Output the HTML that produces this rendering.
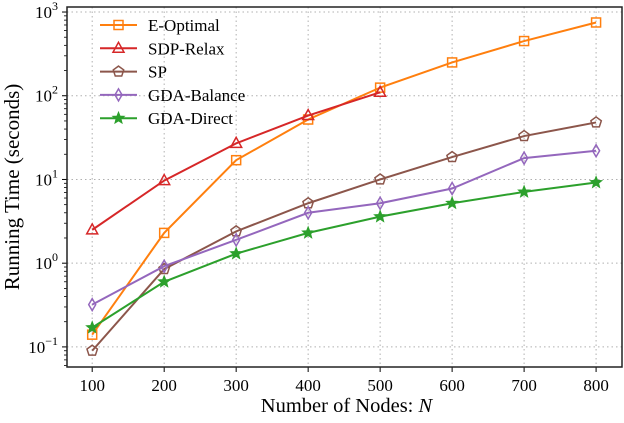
<!DOCTYPE html>
<html><head><meta charset="utf-8"><style>
html,body{margin:0;padding:0;background:#fff}
svg text{font-family:"Liberation Serif","DejaVu Serif",serif;fill:#000}
</style></head><body>
<svg id="chart" width="624" height="418" xmlns="http://www.w3.org/2000/svg"></svg>
<script>
const categories=[100,200,300,400,500,600,700,800];
const eOptimal=[0.14,2.3,17,52,125,250,450,750];
const sdpRelax=[2.5,9.7,27,58,110];
const sp=[0.09,0.85,2.4,5.2,10,18.5,33,48];
const gdaBalance=[0.32,0.92,1.9,4.0,5.2,7.8,18,22];
const gdaDirect=[0.17,0.6,1.3,2.3,3.6,5.2,7.1,9.2];
const yTickExps=[-1,0,1,2,3];
const seriesNames=["E-Optimal","SDP-Relax","SP","GDA-Balance","GDA-Direct"];

const NS="http://www.w3.org/2000/svg";
const svg=document.getElementById('chart');
const L=67,R=622,T=7,B=367;
const xMin=65,xMax=836,yMin=-1.24,yMax=3.06;
const X=v=>L+(v-xMin)/(xMax-xMin)*(R-L);
const Y=v=>B-(Math.log10(v)-yMin)/(yMax-yMin)*(B-T);
function el(tag,attrs,parent){const e=document.createElementNS(NS,tag);for(const k in attrs)e.setAttribute(k,attrs[k]);(parent||svg).appendChild(e);return e;}

categories.forEach(c=>{const g=el('line',{x1:X(c),x2:X(c),y1:T,y2:B,stroke:'#b0b0b0','stroke-dasharray':'1.5,3','stroke-width':1});

});
yTickExps.forEach(e=>{const g=el('line',{x1:L,x2:R,y1:Y(10**e),y2:Y(10**e),stroke:'#b0b0b0','stroke-dasharray':'1.5,3','stroke-width':1});

});

categories.forEach(c=>{
 el('line',{x1:X(c),x2:X(c),y1:B,y2:B+5,stroke:'#000','stroke-width':1});
 const t=el('text',{x:X(c),y:B+24,'font-size':17,'text-anchor':'middle'});t.textContent=c;
 
 
});
yTickExps.forEach(e=>{
 const y=Y(10**e);
 el('line',{x1:L-5,x2:L,y1:y,y2:y,stroke:'#000','stroke-width':1});
 const t=el('text',{x:L-9,y:y+6,'font-size':17,'text-anchor':'end'});
 t.innerHTML='10<tspan dy="-8" font-size="12">'+(e<0?'−'+(-e):e)+'</tspan>';
 
 
});
for(let e=-2;e<=3;e++)for(let m=2;m<=9;m++){const v=m*10**e;const lv=Math.log10(v);if(lv<yMin||lv>yMax)continue;
 el('line',{x1:L-3,x2:L,y1:Y(v),y2:Y(v),stroke:'#000','stroke-width':0.8});}

const frame=el('rect',{x:L,y:T,width:R-L,height:B-T,fill:'none',stroke:'#222','stroke-width':1.5});



const xl=el('text',{x:(L+R)/2+2,y:412,'font-size':20.5,'text-anchor':'middle'});
xl.innerHTML='Number of Nodes: <tspan font-style="italic">N</tspan>';


const yl=el('text',{x:0,y:0,'font-size':21,'text-anchor':'middle',transform:`translate(19,${(T+B)/2}) rotate(-90)`});
yl.textContent='Running Time (seconds)';



function marker(type,x,y,color,g){
 const s=5;
 if(type==='square')return el('rect',{x:x-s+0.5,y:y-s+0.5,width:2*s-1,height:2*s-1,fill:'none',stroke:color,'stroke-width':1.5},g);
 if(type==='tri')return el('polygon',{points:`${x},${y-6} ${x+5.5},${y+4} ${x-5.5},${y+4}`,fill:'none',stroke:color,'stroke-width':1.5},g);
 if(type==='pent'){let p=[];for(let i=0;i<5;i++){const a=-Math.PI/2+i*2*Math.PI/5;p.push((x+5.5*Math.cos(a))+','+(y+5.5*Math.sin(a)));}return el('polygon',{points:p.join(' '),fill:'none',stroke:color,'stroke-width':1.5},g);}
 if(type==='diam')return el('polygon',{points:`${x},${y-6} ${x+3.5},${y} ${x},${y+6} ${x-3.5},${y}`,fill:'none',stroke:color,'stroke-width':1.5},g);
 if(type==='star'){let p=[];for(let i=0;i<10;i++){const a=-Math.PI/2+i*Math.PI/5;const r=i%2?2.6:6;p.push((x+r*Math.cos(a))+','+(y+r*Math.sin(a)));}return el('polygon',{points:p.join(' '),fill:color,stroke:color,'stroke-width':1},g);}
}
const series=[
 {data:eOptimal,color:'#ff7f0e',m:'square',name:'e-optimal'},
 {data:sdpRelax,color:'#d62728',m:'tri',name:'sdp-relax'},
 {data:sp,color:'#8c564b',m:'pent',name:'sp'},
 {data:gdaBalance,color:'#9467bd',m:'diam',name:'gda-balance'},
 {data:gdaDirect,color:'#2ca02c',m:'star',name:'gda-direct'}];
series.forEach(s=>{
 const g=el('g',{});
 
 
 const pts=s.data.map((v,i)=>X(categories[i])+','+Y(v)).join(' ');
 el('polyline',{points:pts,fill:'none',stroke:s.color,'stroke-width':2},g);
 s.data.forEach((v,i)=>{const mk=marker(s.m,X(categories[i]),Y(v),s.color,g);
  
  });
});

const lg=el('g',{});


series.forEach((s,i)=>{
 const y=25+i*23.3;
 const e=el('g',{},lg);
 
 
 el('line',{x1:100,x2:137,y1:y,y2:y,stroke:s.color,'stroke-width':2},e);
 marker(s.m,118.5,y,s.color,e);
 const t=el('text',{x:148,y:y+6,'font-size':17},e);t.textContent=seriesNames[i];
});
</script>
</body></html>
